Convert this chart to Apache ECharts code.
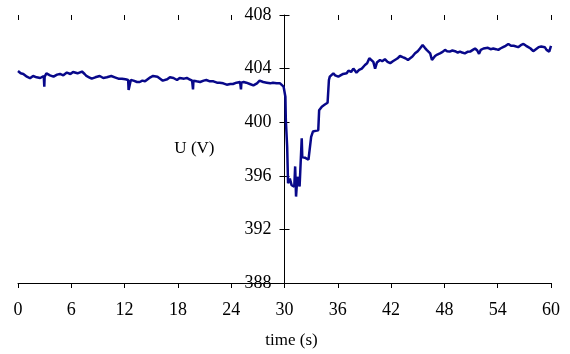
<!DOCTYPE html>
<html>
<head>
<meta charset="utf-8">
<script src="https://cdn.jsdelivr.net/npm/echarts@6/dist/echarts.min.js"></script>
<style>
  html, body { margin: 0; padding: 0; background: #fff; }
  #chart { width: 570px; height: 354px; }
</style>
</head>
<body>
<div id="chart"></div>
<script>
const times = [
  0, 0.3, 0.6, 1.0, 1.35, 1.7, 2.1, 2.5, 2.9, 2.96, 3.0, 3.2, 3.6, 4.0, 4.4, 4.73, 5.1, 5.5, 5.9, 6.2, 6.7, 7.2, 7.5, 7.7, 8.0, 8.3, 8.7, 9.2, 9.6, 10.0,
  10.5, 10.9, 11.3, 11.7, 12.1, 12.4, 12.45, 12.7, 13.0, 13.4, 13.7, 14.0, 14.3, 14.6, 14.9, 15.2, 15.4, 15.7, 16.0, 16.3, 16.5, 16.8, 17.1, 17.5, 17.9, 18.2, 18.4, 18.7, 19.0, 19.3,
  19.6, 19.7, 19.75, 20.1, 20.5, 20.9, 21.2, 21.6, 22.0, 22.4, 22.7, 23.1, 23.5, 23.9, 24.2, 24.6, 25.0, 25.1, 25.15, 25.4, 25.7, 26.1, 26.5, 26.9, 27.2, 27.6, 28.0, 28.4, 28.7, 29.1,
  29.5, 29.9, 30.1, 30.15, 30.3, 30.4, 30.6, 30.8, 31.1, 31.2, 31.3, 31.45, 31.6, 31.7, 31.86, 31.94, 32.0, 32.1, 32.3, 32.5, 32.7, 32.9, 33.0, 33.2, 33.5, 33.8, 33.9, 34.2, 34.5, 34.7,
  34.85, 35.0, 35.1, 35.5, 35.7, 36.06, 36.25, 36.6, 37.0, 37.2, 37.5, 37.75, 38.1, 38.4, 38.7, 39.06, 39.3, 39.55, 40.0, 40.2, 40.4, 40.75, 41.0, 41.3, 41.6, 41.9, 42.2, 42.4, 42.7, 43.0,
  43.3, 43.6, 43.9, 44.1, 44.4, 44.7, 45.0, 45.25, 45.55, 45.8, 46.0, 46.2, 46.4, 46.6, 46.95, 47.2, 47.5, 47.8, 48.07, 48.3, 48.6, 48.9, 49.2, 49.5, 49.76, 50.0, 50.3, 50.6, 50.9, 51.2,
  51.45, 51.7, 51.9, 52.1, 52.4, 52.6, 52.9, 53.2, 53.5, 53.8, 54.07, 54.3, 54.6, 54.9, 55.2, 55.5, 55.8, 56.0, 56.3, 56.6, 56.9, 57.2, 57.45, 57.7, 58.0, 58.3, 58.6, 58.9, 59.1, 59.3,
  59.5, 59.8, 60
];
const volts = [
  403.82, 403.65, 403.6, 403.4, 403.28, 403.45, 403.35, 403.3, 403.45, 402.65, 403.4, 403.65, 403.5, 403.4, 403.55, 403.6, 403.5, 403.7, 403.6, 403.75, 403.65, 403.78, 403.6, 403.45, 403.35, 403.25, 403.35, 403.45, 403.3, 403.35,
  403.45, 403.35, 403.25, 403.25, 403.2, 403.15, 402.4, 403.15, 403.1, 403.0, 403.0, 403.1, 403.05, 403.2, 403.35, 403.45, 403.55, 403.4, 403.25, 403.1, 403.0, 403.2, 403.35, 403.3, 403.15, 403.3, 403.35, 403.25, 403.3, 403.2,
  403.1, 402.45, 403.1, 403.05, 403.0, 403.1, 403.15, 403.05, 403.05, 402.95, 402.95, 402.9, 402.8, 402.85, 402.85, 402.95, 403.0, 402.45, 402.95, 403.0, 402.95, 402.85, 402.75, 402.9, 403.1, 403.0, 402.95, 402.9, 402.95, 402.9,
  402.9, 402.65, 401.9, 400.16, 398.17, 395.44, 395.8, 395.3, 395.2, 396.7, 394.45, 395.93, 395.44, 395.2, 395.2, 398.8, 397.4, 397.5, 397.35, 397.3, 397.2, 397.13, 398.9, 399.3, 399.35, 399.4, 400.9, 401.16, 401.3, 401.4,
  401.45, 403.15, 403.4, 403.65, 403.5, 403.4, 403.4, 403.6, 403.65, 403.85, 403.75, 404.0, 403.7, 403.9, 404.0, 404.27, 404.4, 404.77, 404.5, 404.0, 404.45, 404.64, 404.55, 404.7, 404.5, 404.4, 404.55, 404.6, 404.75, 404.94,
  404.85, 404.77, 404.65, 404.7, 404.9, 405.14, 405.3, 405.5, 405.76, 405.55, 405.4, 405.3, 405.14, 404.64, 404.94, 405.05, 405.14, 405.25, 405.4, 405.3, 405.27, 405.35, 405.3, 405.2, 405.27, 405.2, 405.14, 405.25, 405.27, 405.4,
  405.5, 405.35, 405.1, 405.4, 405.5, 405.45, 405.55, 405.45, 405.5, 405.45, 405.4, 405.5, 405.6, 405.7, 405.84, 405.7, 405.7, 405.65, 405.6, 405.75, 405.84, 405.7, 405.6, 405.5, 405.3, 405.45, 405.6, 405.65, 405.7, 405.6,
  405.4, 405.27, 405.7
];
const xTicks = [0, 6, 12, 18, 24, 30, 36, 42, 48, 54, 60];
const yTicks = [388, 392, 396, 400, 404, 408];

const chart = echarts.init(document.getElementById('chart'));
const font = 'Liberation Serif';
const gridLeft = 18, gridRight = 19;
const plotW = 570 - gridLeft - gridRight;
// y axis crosses the time axis at t = 30
const yOffset = -plotW * (30 - xTicks[0]) / (xTicks[xTicks.length - 1] - xTicks[0]);

const baseX = {
  type: 'value',
  min: xTicks[0],
  max: xTicks[xTicks.length - 1],
  interval: 6,
  splitLine: { show: false }
};
const baseY = {
  type: 'value',
  min: yTicks[0],
  max: yTicks[yTicks.length - 1],
  interval: 4,
  position: 'left',
  offset: yOffset,
  splitLine: { show: false }
};

chart.setOption({
  animation: false,
  grid: { left: gridLeft, right: gridRight, top: 15, bottom: 71 },
  xAxis: [
    Object.assign({}, baseX, {
      name: 'time (s)',
      nameLocation: 'middle',
      nameGap: 49,
      nameTextStyle: { fontFamily: font, fontSize: 17, color: '#000', padding: [0, 0, 0, 14] },
      axisLine: { lineStyle: { color: '#000', width: 1 } },
      axisTick: { length: 5, lineStyle: { color: '#000' } },
      axisLabel: { fontFamily: font, fontSize: 18, color: '#000', margin: 18 }
    }),
    Object.assign({}, baseX, {
      axisLine: { show: false },
      axisTick: { inside: true, length: 5, lineStyle: { color: '#000' } },
      axisLabel: { show: false }
    })
  ],
  yAxis: [
    Object.assign({}, baseY, {
      name: 'U (V)',
      nameLocation: 'middle',
      nameRotate: 0,
      nameGap: 70,
      nameTextStyle: { fontFamily: font, fontSize: 17, color: '#000' },
      axisLine: { show: true, lineStyle: { color: '#000', width: 1 } },
      axisTick: { show: true, length: 5, lineStyle: { color: '#000' } },
      axisLabel: { fontFamily: font, fontSize: 18, color: '#000', margin: 13 }
    }),
    Object.assign({}, baseY, {
      axisLine: { show: false },
      axisTick: { show: true, inside: true, length: 5, lineStyle: { color: '#000' } },
      axisLabel: { show: false }
    })
  ],
  series: [{
    type: 'line',
    data: times.map((t, i) => [t, volts[i]]),
    showSymbol: false,
    lineStyle: { color: '#08088a', width: 2.5 },
    z: 1
  }]
});
</script>
</body>
</html>
